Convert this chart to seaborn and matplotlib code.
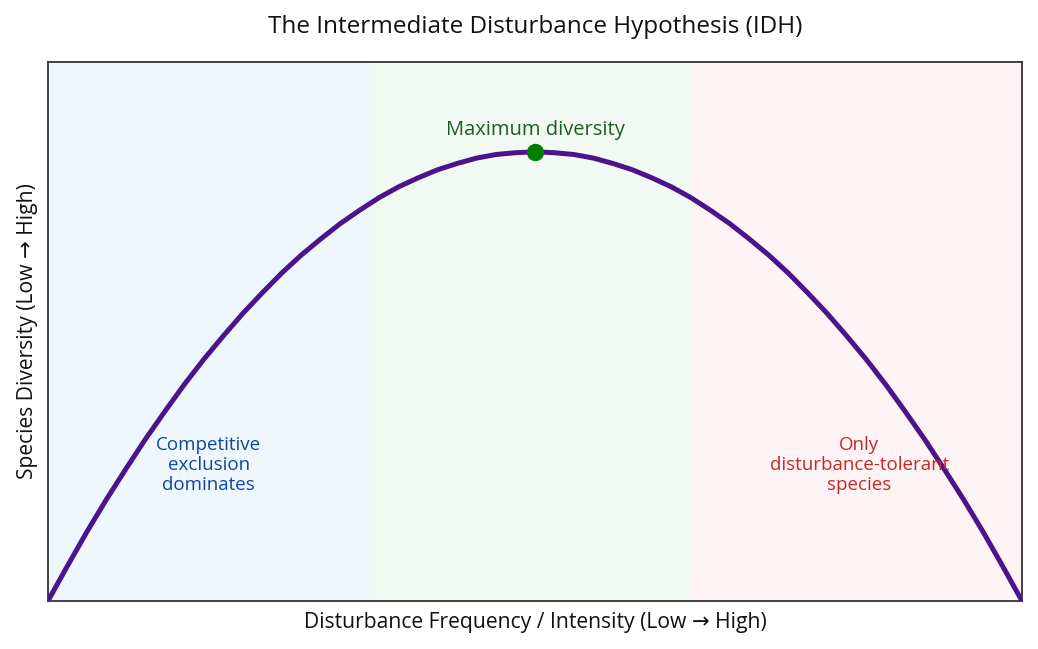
import matplotlib
matplotlib.use("Agg")
import matplotlib.pyplot as plt
import seaborn as sns
import pandas as pd

# Data
disturbance = [0.0, 0.2, 0.4, 0.6, 0.8, 1.0, 1.2, 1.4, 1.6, 1.8, 2.0, 2.2, 2.4, 2.6, 2.8,
               3.0, 3.2, 3.4, 3.6, 3.8, 4.0, 4.2, 4.4, 4.6, 4.8, 5.0, 5.2, 5.4, 5.6, 5.8,
               6.0, 6.2, 6.4, 6.6, 6.8, 7.0, 7.2, 7.4, 7.6, 7.8, 8.0, 8.2, 8.4, 8.6, 8.8,
               9.0, 9.2, 9.4, 9.6, 9.8, 10.0]
diversity = [0.0, 0.078, 0.154, 0.226, 0.294, 0.36, 0.422, 0.482, 0.538, 0.59, 0.64,
             0.686, 0.73, 0.77, 0.806, 0.84, 0.87, 0.898, 0.922, 0.942, 0.96, 0.974,
             0.986, 0.994, 0.998, 1.0, 0.998, 0.994, 0.986, 0.974, 0.96, 0.942, 0.922,
             0.898, 0.87, 0.84, 0.806, 0.77, 0.73, 0.686, 0.64, 0.59, 0.538, 0.482, 0.422,
             0.36, 0.294, 0.226, 0.154, 0.078, 0.0]
zone_edges = [0.0, 3.31, 6.61, 10.0]
zone_colors = ["#e3f2fd", "#e8f5e9", "#ffebee"]
peak_x = [5.0]
peak_y = [1.0]

sns.set_style("white")
plt.rcParams['font.family'] = ['Open Sans', 'DejaVu Sans']
plt.rcParams['text.color'] = '#111111'
plt.rcParams['axes.labelcolor'] = '#111111'

df = pd.DataFrame({"x": disturbance, "y": diversity})

fig = plt.figure(figsize=(10.38, 6.49), dpi=100)
ax = fig.add_axes([0.0462, 0.074, 0.9384, 0.8305])

for i, c in enumerate(zone_colors):
    ax.axvspan(zone_edges[i], zone_edges[i + 1], color=c, alpha=0.55, lw=0, zorder=0)

sns.lineplot(data=df, x="x", y="y", ax=ax, color="#4a148c", linewidth=3.6, zorder=3,
             solid_joinstyle="round", solid_capstyle="round")
ax.plot(peak_x, peak_y, 'o', color="#008000", markersize=11.5, zorder=4)

ax.text(5.0, 1.049, "Maximum diversity", color="#1b5e20", fontsize=14.5,
        ha="center", va="center", zorder=5)
ax.text(1.65, 0.303, "Competitive\nexclusion\ndominates", color="#0d47a1", fontsize=13.5,
        ha="center", va="center", linespacing=1.12, zorder=5)
ax.text(8.33, 0.303, "Only\ndisturbance-tolerant\nspecies", color="#c62828", fontsize=13.5,
        ha="center", va="center", linespacing=1.12, zorder=5)

ax.set_xlim(0, 10)
ax.set_ylim(0, 1.2)
ax.set_xticks([])
ax.set_yticks([])
ax.set_xlabel("Disturbance Frequency / Intensity (Low \u2192 High)", fontsize=15.2, labelpad=8)
ax.set_ylabel("Species Diversity (Low \u2192 High)", fontsize=15.2, labelpad=7)
ax.set_title("The Intermediate Disturbance Hypothesis (IDH)", fontsize=17.5, pad=21)
for s in ax.spines.values():
    s.set_color("#333333")
    s.set_linewidth(1.3)

fig.savefig("out.png", dpi=100)
